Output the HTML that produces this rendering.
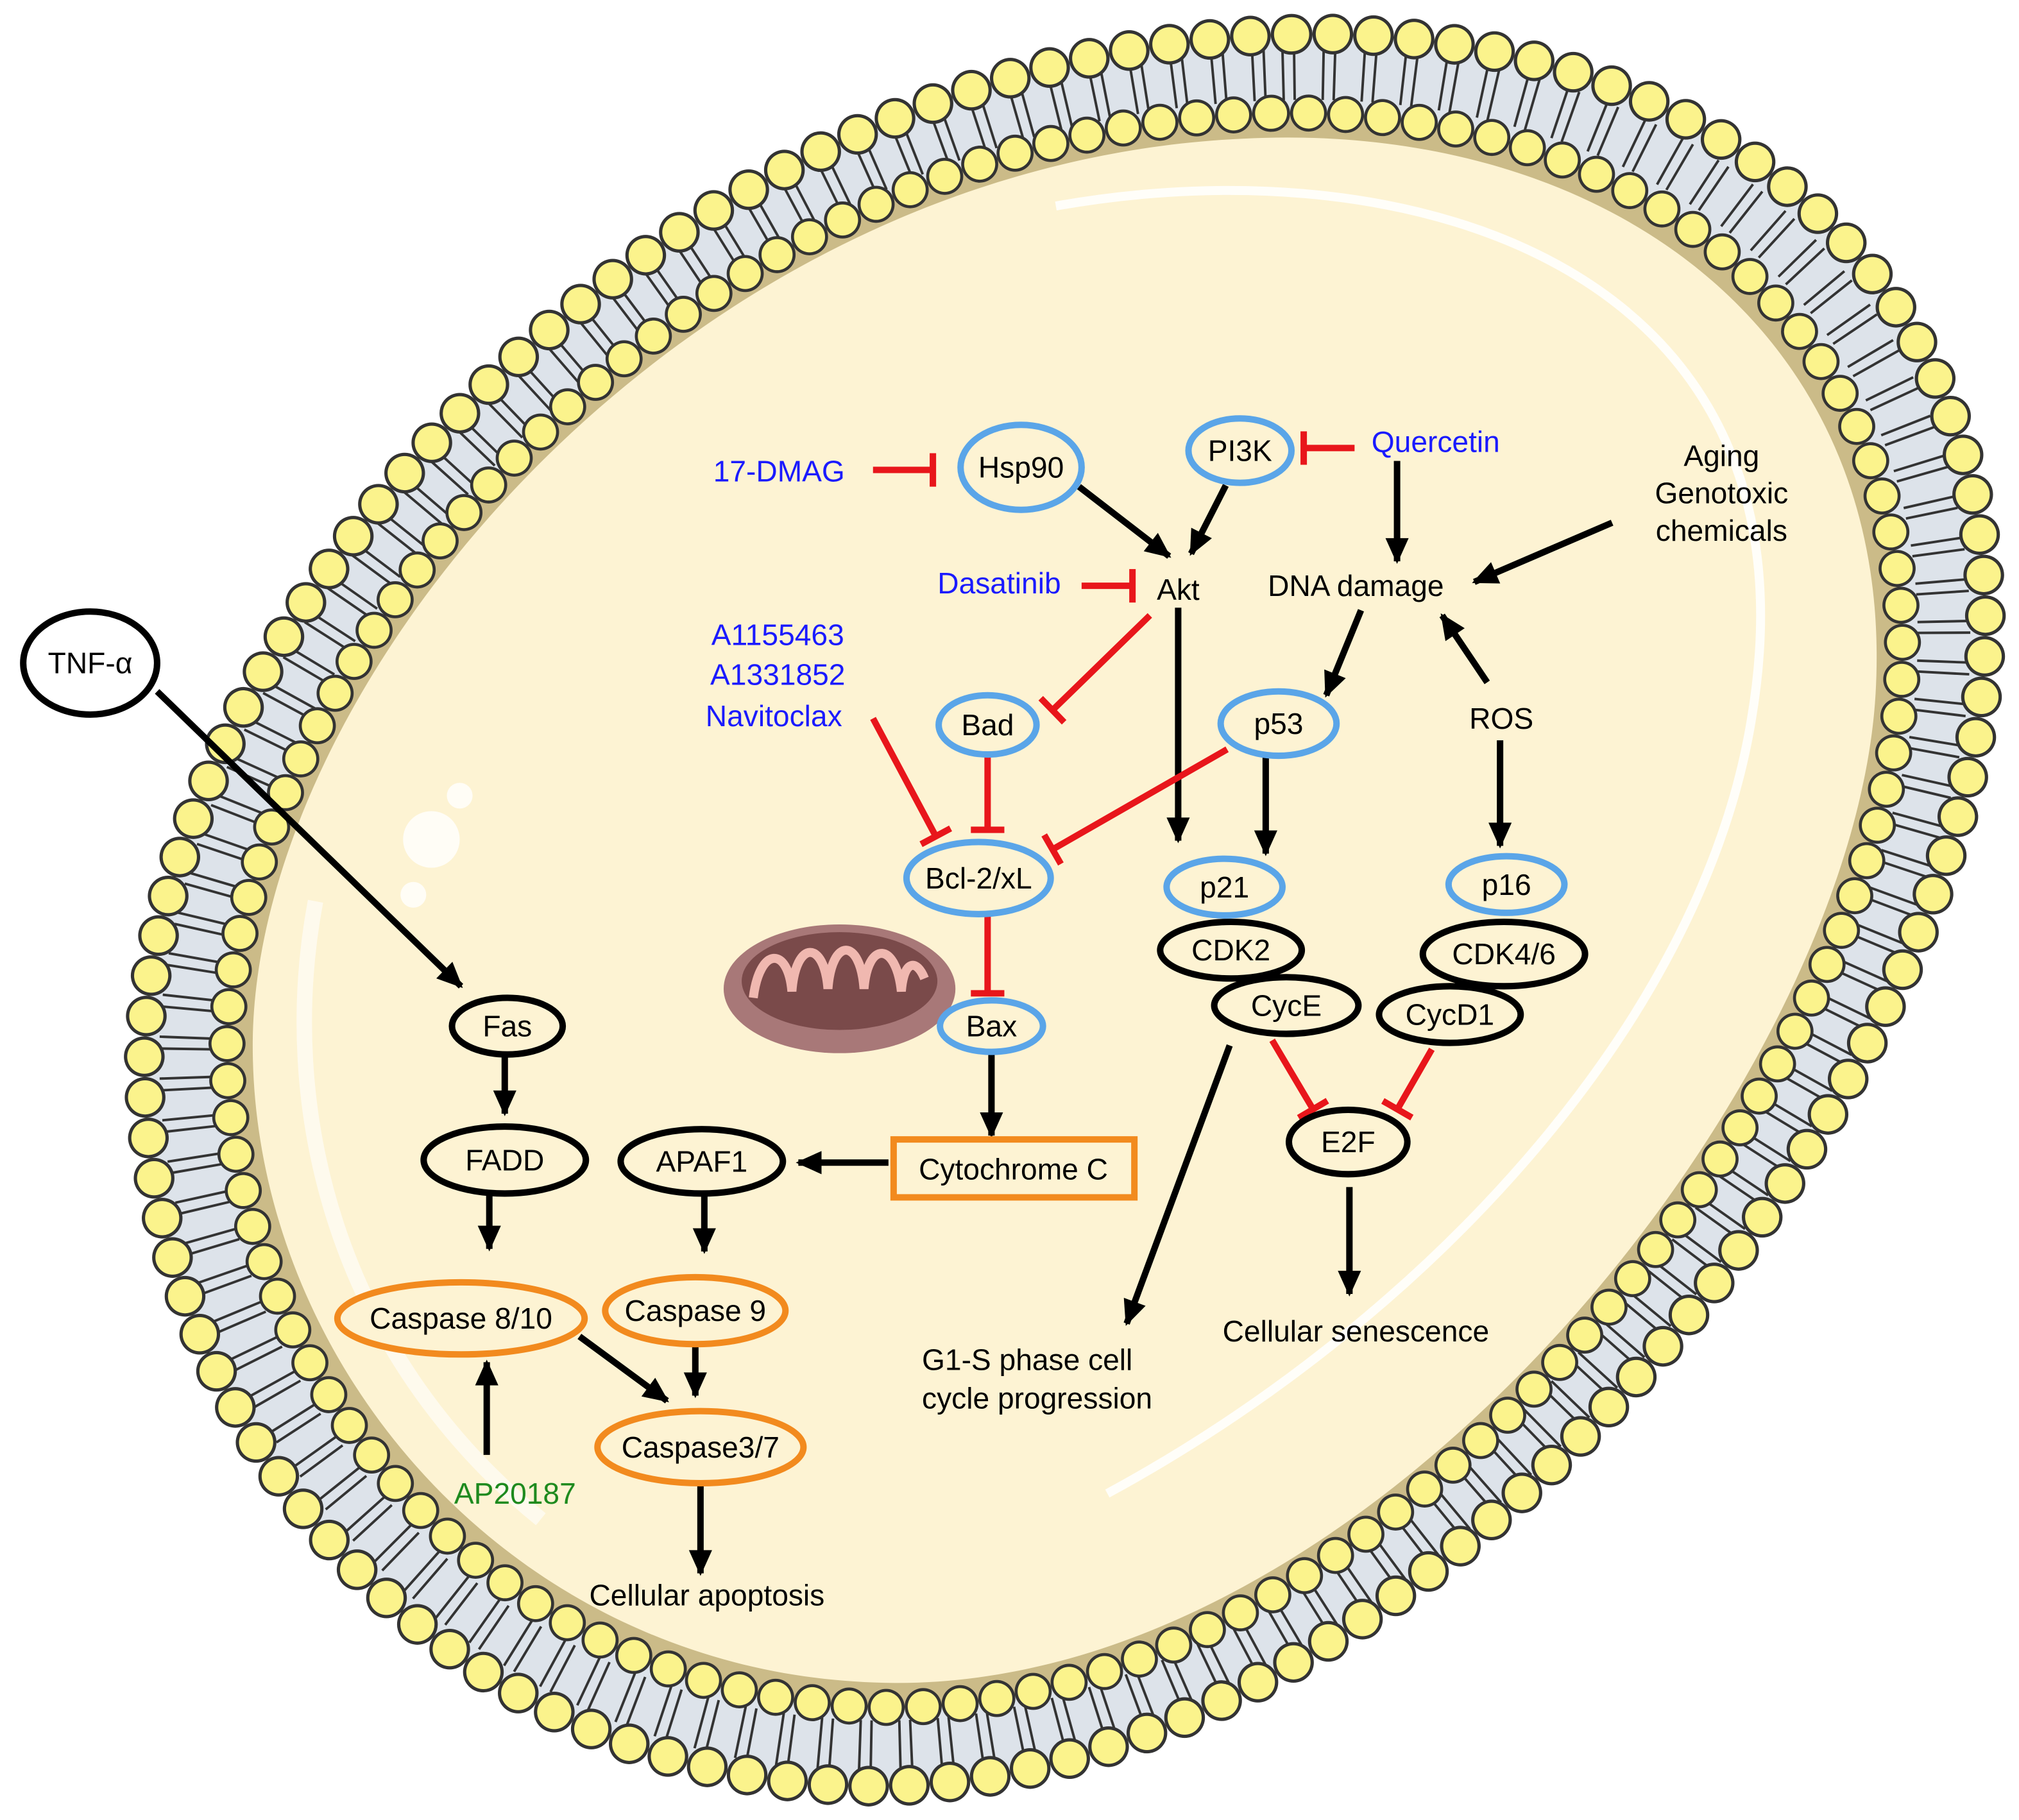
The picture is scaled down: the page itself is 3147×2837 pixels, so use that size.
<!DOCTYPE html>
<html><head><meta charset="utf-8"><style>html,body{margin:0;padding:0;background:#fff}svg{display:block}</style></head>
<body>
<svg width="3147" height="2837" viewBox="0 0 1568 1413.6" xmlns="http://www.w3.org/2000/svg" font-family="Liberation Sans, Arial, sans-serif">
<defs>
<marker id="ar" markerUnits="userSpaceOnUse" markerWidth="24" markerHeight="24" viewBox="0 0 24 24" refX="20" refY="12" orient="auto"><path d="M2,3 L22,12 L2,21 Z" fill="#000"/></marker>
<marker id="tb" markerUnits="userSpaceOnUse" markerWidth="10" markerHeight="30" viewBox="0 0 10 30" refX="5" refY="15" orient="auto"><rect x="2" y="2" width="5" height="26" fill="#e8161b"/></marker>
<path id="outer" d="M 1000,40 C 1300,32 1545,210 1527,520 C 1508,850 1100,1376 680,1374 C 355,1372 124,1100 126,820 C 129,505 505,52 1000,40 Z"/>
</defs>
<g transform="translate(826,708) scale(1.02) translate(-826,-708)">
<use href="#outer" fill="#dde3ea"/>
<g transform="translate(826,708) scale(0.955) translate(-826,-708)">
<use href="#outer" fill="none" stroke="#333" stroke-width="42" stroke-dasharray="2 7 2 21"/>
</g>
<g transform="translate(826,708) scale(0.91) translate(-826,-708)">
<use href="#outer" fill="#cbbb88"/>
</g>
<use href="#outer" fill="none" stroke="#333" stroke-width="31" stroke-dasharray="0 31" stroke-linecap="round"/>
<use href="#outer" fill="none" stroke="#fbf38c" stroke-width="26" stroke-dasharray="0 31" stroke-linecap="round"/>
<g transform="translate(826,708) scale(0.91) translate(-826,-708)">
<use href="#outer" fill="none" stroke="#333" stroke-width="31" stroke-dasharray="0 31" stroke-linecap="round"/>
<use href="#outer" fill="none" stroke="#fbf38c" stroke-width="26" stroke-dasharray="0 31" stroke-linecap="round"/>
</g>
<g transform="translate(826,708) scale(0.882) translate(-826,-708)">
<use href="#outer" fill="#fdf3d3"/>
</g>
</g>
<path d="M 820,160 C 1100,110 1420,210 1360,560 C 1320,800 1100,1030 860,1160" fill="none" stroke="#fff" stroke-width="7" opacity="0.85"/>
<path d="M 245,700 C 215,860 260,1050 420,1180" fill="none" stroke="#fff" stroke-width="12" opacity="0.6"/>
<circle cx="335" cy="652" r="22" fill="#fff" opacity="0.8"/>
<circle cx="357" cy="618" r="10" fill="#fff" opacity="0.8"/>
<circle cx="321" cy="695" r="10" fill="#fff" opacity="0.8"/>
<ellipse cx="652" cy="768" rx="90" ry="50" fill="#a87878"/>
<ellipse cx="652" cy="762" rx="76" ry="38" fill="#7a4a4a"/>
<path d="M585,775 C590,735 612,735 615,770 C618,730 640,730 643,768 C646,728 668,728 671,768 C674,730 696,732 700,770 C702,745 712,745 718,760" fill="none" stroke="#f0b8b0" stroke-width="7"/>
<g stroke="#000" stroke-width="5" fill="none" marker-end="url(#ar)">
<line x1="122" y1="537" x2="358" y2="766"/>
<line x1="392" y1="820" x2="392" y2="865"/>
<line x1="380" y1="927" x2="380" y2="970"/>
<line x1="547" y1="928" x2="547" y2="972"/>
<line x1="690" y1="903" x2="620" y2="903"/>
<line x1="770" y1="818" x2="770" y2="882"/>
<line x1="450" y1="1038" x2="518" y2="1088"/>
<line x1="540" y1="1044" x2="540" y2="1084"/>
<line x1="544" y1="1152" x2="544" y2="1222"/>
<line x1="378" y1="1130" x2="378" y2="1058"/>
<line x1="838" y1="378" x2="908" y2="432"/>
<line x1="952" y1="377" x2="925" y2="430"/>
<line x1="1085" y1="358" x2="1085" y2="436"/>
<line x1="1252" y1="406" x2="1145" y2="452"/>
<line x1="1057" y1="474" x2="1030" y2="540"/>
<line x1="1155" y1="530" x2="1120" y2="478"/>
<line x1="915" y1="472" x2="915" y2="653"/>
<line x1="983" y1="588" x2="983" y2="663"/>
<line x1="1165" y1="575" x2="1165" y2="657"/>
<line x1="955" y1="812" x2="875" y2="1028"/>
<line x1="1048" y1="922" x2="1048" y2="1005"/>
</g>
<g stroke="#e8161b" stroke-width="5" fill="none" marker-end="url(#tb)">
<line x1="678" y1="365" x2="725" y2="365"/>
<line x1="1052" y1="348" x2="1012" y2="348"/>
<line x1="840" y1="455" x2="880" y2="455"/>
<line x1="893" y1="478" x2="817" y2="552"/>
<line x1="767" y1="588" x2="767" y2="645"/>
<line x1="678" y1="558" x2="727" y2="650"/>
<line x1="953" y1="582" x2="817" y2="660"/>
<line x1="767" y1="712" x2="767" y2="772"/>
<line x1="988" y1="808" x2="1020" y2="862"/>
<line x1="1112" y1="815" x2="1085" y2="862"/>
</g>
<g fill="#fdf3d3" stroke-width="5">
<ellipse cx="70" cy="515" rx="52" ry="40" stroke="#000" fill="#fff"/>
<ellipse cx="793" cy="363" rx="47" ry="33" stroke="#5aa5e8"/>
<ellipse cx="963" cy="350" rx="40" ry="25" stroke="#5aa5e8"/>
<ellipse cx="767" cy="563" rx="38" ry="23" stroke="#5aa5e8"/>
<ellipse cx="993" cy="562" rx="45" ry="25" stroke="#5aa5e8"/>
<ellipse cx="760" cy="682" rx="56" ry="28" stroke="#5aa5e8"/>
<ellipse cx="951" cy="689" rx="45" ry="22" stroke="#5aa5e8"/>
<ellipse cx="1170" cy="687" rx="45" ry="22" stroke="#5aa5e8"/>
<ellipse cx="956" cy="738" rx="55" ry="22" stroke="#000"/>
<ellipse cx="1168" cy="741" rx="63" ry="25" stroke="#000"/>
<ellipse cx="999" cy="781" rx="56" ry="22" stroke="#000"/>
<ellipse cx="1126" cy="788" rx="55" ry="22" stroke="#000"/>
<ellipse cx="770" cy="797" rx="40" ry="20" stroke="#5aa5e8"/>
<ellipse cx="394" cy="797" rx="43" ry="22" stroke="#000"/>
<ellipse cx="392" cy="901" rx="63" ry="26" stroke="#000"/>
<ellipse cx="545" cy="902" rx="63" ry="25" stroke="#000"/>
<rect x="694" y="885" width="187" height="45" stroke="#f28a1e"/>
<ellipse cx="1047" cy="887" rx="46" ry="25" stroke="#000"/>
<ellipse cx="358" cy="1024" rx="96" ry="28" stroke="#f28a1e"/>
<ellipse cx="540" cy="1018" rx="70" ry="26" stroke="#f28a1e"/>
<ellipse cx="544" cy="1124" rx="80" ry="28" stroke="#f28a1e"/>
</g>
<g font-size="23" text-anchor="middle" fill="#000">
<text x="70" y="523">TNF-α</text>
<text x="793" y="371">Hsp90</text>
<text x="963" y="358">PI3K</text>
<text x="915" y="466">Akt</text>
<text x="1053" y="463">DNA damage</text>
<text x="1337" y="362">Aging</text>
<text x="1337" y="391">Genotoxic</text>
<text x="1337" y="420">chemicals</text>
<text x="767" y="571">Bad</text>
<text x="993" y="570">p53</text>
<text x="1166" y="566">ROS</text>
<text x="760" y="690">Bcl-2/xL</text>
<text x="951" y="697">p21</text>
<text x="1170" y="695">p16</text>
<text x="956" y="746">CDK2</text>
<text x="1168" y="749">CDK4/6</text>
<text x="999" y="789">CycE</text>
<text x="1126" y="796">CycD1</text>
<text x="770" y="805">Bax</text>
<text x="394" y="805">Fas</text>
<text x="392" y="909">FADD</text>
<text x="545" y="910">APAF1</text>
<text x="787" y="916">Cytochrome C</text>
<text x="1047" y="895">E2F</text>
<text x="358" y="1032">Caspase 8/10</text>
<text x="540" y="1026">Caspase 9</text>
<text x="544" y="1132">Caspase3/7</text>
<text x="549" y="1247">Cellular apoptosis</text>
<text x="1053" y="1042">Cellular senescence</text>
<text x="716" y="1064" text-anchor="start">G1-S phase cell</text>
<text x="716" y="1094" text-anchor="start">cycle progression</text>
</g>
<g font-size="23" text-anchor="middle" fill="#1a1aff">
<text x="1115" y="351">Quercetin</text>
<text x="605" y="374">17-DMAG</text>
<text x="776" y="461">Dasatinib</text>
<text x="604" y="501">A1155463</text>
<text x="604" y="532">A1331852</text>
<text x="601" y="564">Navitoclax</text>
</g>
<text x="400" y="1168" font-size="23" text-anchor="middle" fill="#1e8a1e">AP20187</text>
</svg>
</body></html>
